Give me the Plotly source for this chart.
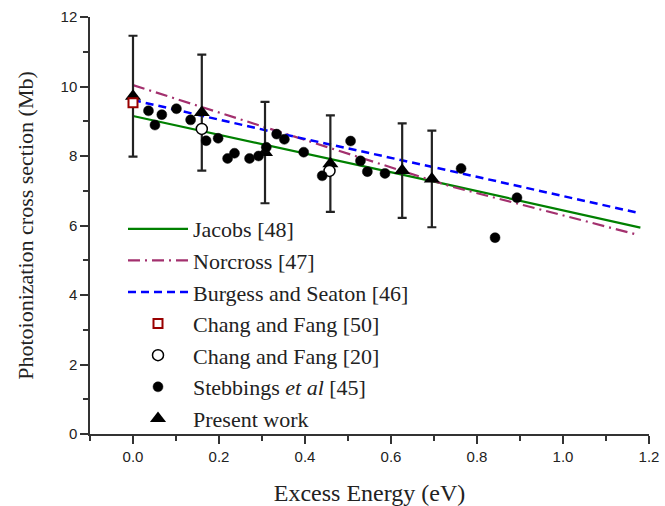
import plotly.graph_objects as go

# Theory curves
jacobs_x = [0.0, 0.341, 0.735, 1.18]
jacobs_y = [9.15, 8.24, 7.17, 5.94]
norcross_x = [0.0, 0.341, 0.735, 1.175]
norcross_y = [10.04, 8.70, 7.14, 5.73]
burgess_x = [0.0, 0.341, 0.735, 1.18]
burgess_y = [9.61, 8.65, 7.58, 6.35]

# Chang and Fang [50]
cf50_x = [0.0]
cf50_y = [9.53]
# Chang and Fang [20]
cf20_x = [0.160, 0.457]
cf20_y = [8.78, 7.57]
# Stebbings et al [45]
st_x = [0.036, 0.051, 0.067, 0.101, 0.134, 0.170, 0.198, 0.220, 0.236, 0.271,
        0.292, 0.310, 0.334, 0.352, 0.397, 0.440, 0.506, 0.529, 0.545, 0.586,
        0.763, 0.842, 0.893]
st_y = [9.30, 8.89, 9.19, 9.36, 9.04, 8.44, 8.51, 7.93, 8.08, 7.93,
        8.00, 8.25, 8.63, 8.48, 8.11, 7.43, 8.43, 7.86, 7.55, 7.50,
        7.64, 5.65, 6.80]
# Present work
pw_x = [0.0, 0.160, 0.307, 0.459, 0.626, 0.695]
pw_y = [9.72, 9.25, 8.10, 7.78, 7.58, 7.34]
pw_err = [1.74, 1.67, 1.46, 1.39, 1.36, 1.39]

x_ticks = [0.0, 0.2, 0.4, 0.6, 0.8, 1.0, 1.2]
x_ticklabels = ["0.0", "0.2", "0.4", "0.6", "0.8", "1.0", "1.2"]
y_ticks = [0, 2, 4, 6, 8, 10, 12]

serif = "Liberation Serif"
sans = "Liberation Sans"

fig = go.Figure()
fig.add_trace(go.Scatter(x=jacobs_x, y=jacobs_y, mode="lines", name="Jacobs [48]",
                         line=dict(color="#008000", width=2.2), legendrank=1))
fig.add_trace(go.Scatter(x=norcross_x, y=norcross_y, mode="lines", name="Norcross [47]",
                         line=dict(color="#A3306E", width=2.2, dash="12px,5px,2px,5px"), legendrank=2))
fig.add_trace(go.Scatter(x=burgess_x, y=burgess_y, mode="lines", name="Burgess and Seaton [46]",
                         line=dict(color="#0000FF", width=2.5, dash="8px,5px"), legendrank=3))
fig.add_trace(go.Scatter(x=pw_x, y=pw_y, mode="markers", name="Present work",
                         marker=dict(symbol="triangle-up", size=14, color="black"),
                         error_y=dict(type="data", array=pw_err, visible=True,
                                      color="#222222", thickness=2.2, width=4.5),
                         legendrank=7))
fig.add_trace(go.Scatter(x=cf50_x, y=cf50_y, mode="markers", name="Chang and Fang [50]",
                         marker=dict(symbol="square", size=9, color="white",
                                     line=dict(color="#990000", width=2)), legendrank=4))
fig.add_trace(go.Scatter(x=cf20_x, y=cf20_y, mode="markers", name="Chang and Fang [20]",
                         marker=dict(symbol="circle", size=11, color="white",
                                     line=dict(color="black", width=1.5)), legendrank=5))
fig.add_trace(go.Scatter(x=st_x, y=st_y, mode="markers", name="Stebbings <i>et al</i> [45]",
                         marker=dict(symbol="circle", size=10, color="black",
                                     line=dict(color="#111111", width=0.5)), legendrank=6))

axis_common = dict(showline=True, linecolor="#333333", linewidth=1.5, showgrid=False,
                   zeroline=False, ticks="outside", tickcolor="#333333", tickwidth=1.5,
                   ticklen=8, tickfont=dict(family=sans, size=15, color="#222222"),
                   mirror=False, automargin=False)

fig.update_layout(
    width=665, height=506,
    margin=dict(l=90, r=16, t=17, b=72),
    paper_bgcolor="white", plot_bgcolor="white",
    showlegend=True,
    legend=dict(x=(123 - 90) / 559, y=(434 - 208) / 417, xanchor="left", yanchor="top",
                bgcolor="rgba(0,0,0,0)", font=dict(family=serif, size=22, color="#222222"),
                itemwidth=60, tracegroupgap=0),
    xaxis=dict(range=[-0.1, 1.2], tickvals=x_ticks, ticktext=x_ticklabels,
               minor=dict(dtick=0.1, tick0=0, ticks="outside", ticklen=5,
                          tickcolor="#333333", tickwidth=1.5),
               title=dict(text="Excess Energy (eV)", font=dict(family=serif, size=24, color="#222222"),
                          standoff=23),
               **axis_common),
    yaxis=dict(range=[0, 12], tickvals=y_ticks,
               minor=dict(dtick=1, tick0=0, ticks="outside", ticklen=5,
                          tickcolor="#333333", tickwidth=1.5),
               title=dict(text="Photoionization cross section (Mb)",
                          font=dict(family=serif, size=22, color="#222222"), standoff=21),
               **axis_common),
)

fig.write_html("out.html")
